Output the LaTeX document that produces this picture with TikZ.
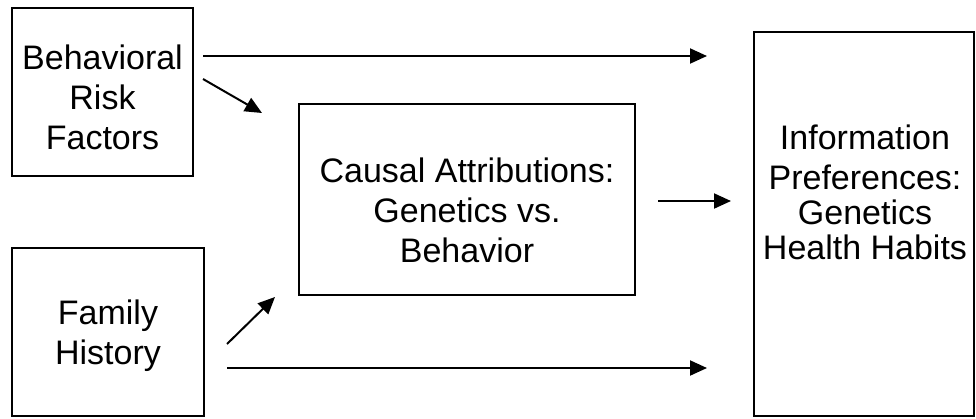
\documentclass[tikz,border=0pt]{standalone}
\usepackage{fontspec}
\setmainfont{Liberation Sans}
\usetikzlibrary{arrows.meta}
\begin{document}
\begin{tikzpicture}[x=1pt,y=-1pt,
  box/.style={draw, line width=2pt, inner sep=0pt, outer sep=0pt},
  txt/.style={align=center, inner sep=0pt, font=\fontsize{34}{40}\selectfont},
  conn/.style={line width=2pt, -{Triangle[length=17pt,width=15pt]}}]
\useasboundingbox (0,0) rectangle (976,418);
% boxes
\node[box, minimum width=181pt, minimum height=168pt] (brf) at (102.5,92) {};
\node[box, minimum width=192pt, minimum height=168pt] (fh) at (108,332) {};
\node[box, minimum width=336pt, minimum height=191pt] (ca) at (467,199.5) {};
\node[box, minimum width=220pt, minimum height=384pt] (ip) at (864,224) {};
% texts
\node[txt] (brft) at (102.5,97.8) {Behavioral\\Risk\\Factors};
\node[txt] (fht) at (108,335.3) {Family\\History};
\node[txt] (cat) at (467,210.3) {Causal Attributions:\\Genetics vs.\\Behavior};
\node[txt] (ipt) at (865,192.8) {Information\\Preferences:\\[-5pt]Genetics\\[-5pt]Health Habits};
% connector end points
\coordinate (a1s) at (203,56);  \coordinate (a1e) at (707,56);
\coordinate (a2s) at (203,79);  \coordinate (a2e) at (262,113);
\coordinate (a3s) at (658,201); \coordinate (a3e) at (731,201);
\coordinate (a4s) at (227,344); \coordinate (a4e) at (275,297);
\coordinate (a5s) at (227,368); \coordinate (a5e) at (707,368);
\draw[conn] (a1s) -- (a1e);
\draw[conn] (a2s) -- (a2e);
\draw[conn] (a3s) -- (a3e);
\draw[conn] (a4s) -- (a4e);
\draw[conn] (a5s) -- (a5e);
\end{tikzpicture}
\end{document}
